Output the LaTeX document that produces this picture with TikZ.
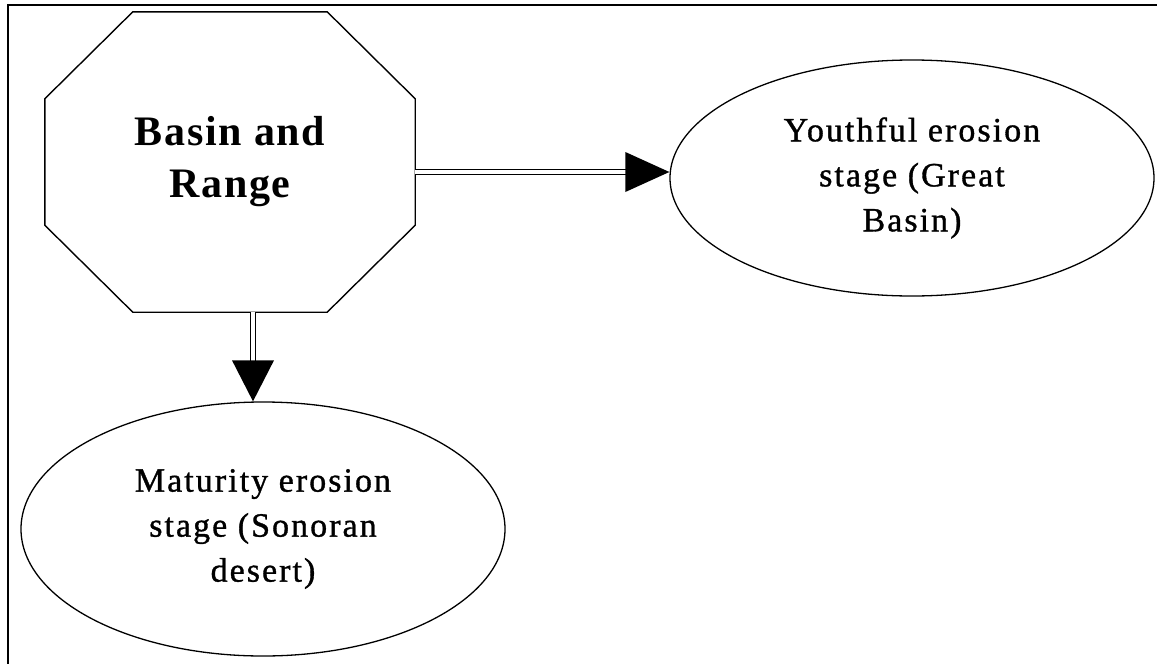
\documentclass[tikz,border=0pt]{standalone}
\usepackage{fontspec}
\setmainfont{Liberation Serif}
\newfontfamily\lblfont[LetterSpace=6,FakeBold=1]{Liberation Serif}
\newfontfamily\ttlfont[LetterSpace=4]{Liberation Serif}
\usetikzlibrary{shapes.geometric,calc}
\tikzset{
  frameline/.style={line width=1.4pt, black},
  octline/.style={line width=1.4pt, black, line join=miter},
  stage/.style={ellipse, draw, line width=1.3pt, inner sep=0pt, align=center,
    font=\lblfont\fontsize{34}{45}\selectfont},
  dbl/.style={double, double distance=4pt, line width=1.2pt, black},
  tipfill/.style={fill=black},
}
\begin{document}
\begin{tikzpicture}[x=1pt, y=-1pt]
\useasboundingbox (0,0) rectangle (1157,664);
\fill[white] (0,0) rectangle (1157,664);
% frame (left and top edges only visible)
\draw[frameline] (8,664) -- (8,5) -- (1157,5);

% octagon node
\node[minimum width=370pt, minimum height=300pt, inner sep=0pt, align=center,
      font=\ttlfont\bfseries\fontsize{42}{52}\selectfont] (br) at (230,162) {Basin and\\Range};
\draw[octline] ([xshift=88pt]br.north west) -- ([xshift=-88pt]br.north east)
  -- ([yshift=-87pt]br.north east) -- ([yshift=87pt]br.south east)
  -- ([xshift=-88pt]br.south east) -- ([xshift=88pt]br.south west)
  -- ([yshift=87pt]br.south west) -- ([yshift=-87pt]br.north west) -- cycle;

% stage ellipses
\node[stage, minimum width=484pt, minimum height=236pt] (yo) at (912,178)
  {Youthful erosion\\stage (Great\\Basin)};
\node[stage, minimum width=484pt, minimum height=254pt] (mat) at (263,529)
  {Maturity erosion\\stage (Sonoran\\desert)};

% connector: octagon -> youthful
\coordinate (h1) at ([yshift=-10pt]br.east);
\coordinate (h2) at ([yshift=6pt]yo.west);
\draw[dbl, shorten >=40pt] (h1) -- (h2);
\fill[tipfill] (h2) -- ++(-44,-20) -- ++(0,40) -- cycle;

% connector: octagon -> maturity
\coordinate (v1) at ([xshift=23pt]br.south);
\coordinate (v2) at (v1 |- mat.north);
\draw[dbl, shorten >=36pt] (v1) -- (v2);
\fill[tipfill] (v2) -- ++(-21,-41) -- ++(42,0) -- cycle;
\end{tikzpicture}
\end{document}
